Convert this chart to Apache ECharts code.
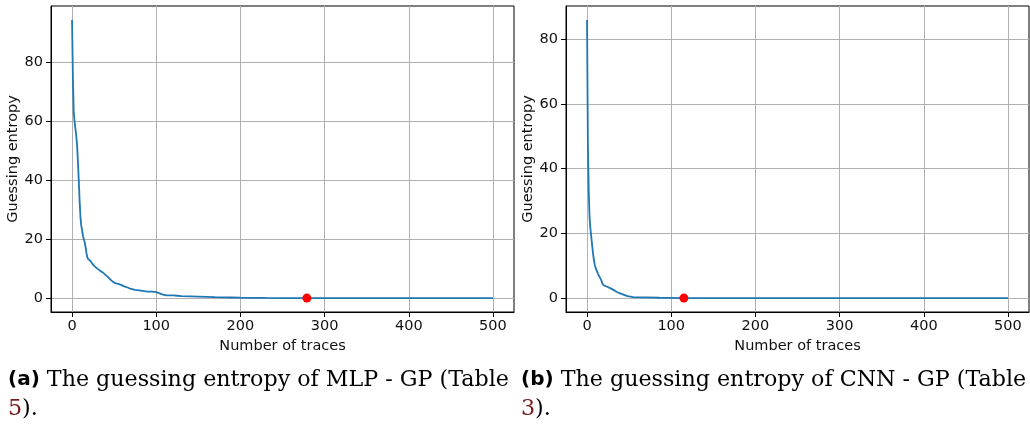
<!DOCTYPE html>
<html>
<head>
<meta charset="utf-8">
<script src="https://cdn.jsdelivr.net/npm/echarts@6/dist/echarts.min.js"></script>
<style>
html,body{margin:0;padding:0;background:#fff;}
#chart{width:1030px;height:426px;}
</style>
</head>
<body>
<div id="chart"></div>
<script>
// ---- data ----
const mlpTraces = [0,1,2,3,4,5,6,7,8,9,10,11,12,13,14,15,16,17,18,19,20,22,24,26,28,30,33,36,40,43,46,49,52,55,58,62,66,70,75,80,85,90,95,100,104,108,112,116,120,125,130,140,150,160,170,180,190,200,215,230,250,279,300,350,400,450,500];
const mlpGE     = [94.4,75,63,60,57.5,55,52,46,40,33,27.5,24.5,23,21,20,19,17.5,15.5,14,13.3,13.2,12.6,11.7,11,10.5,10,9.4,8.8,7.8,7.0,6.2,5.4,5.0,4.8,4.5,4.0,3.6,3.1,2.8,2.6,2.4,2.2,2.2,2.0,1.6,1.2,0.9,0.9,0.9,0.8,0.7,0.6,0.5,0.4,0.3,0.25,0.2,0.15,0.1,0.05,0.02,0,0,0,0,0,0];
const mlpMarker = [279, 0];

const cnnTraces = [0,1,2,3,4,5,6,7,8,9,10,11,12,13,14,15,16,17,18,19,20,22,24,26,28,30,33,36,40,44,48,50,55,62,70,86,100,115,200,300,400,500];
const cnnGE     = [86,48,33,25,21.5,19,16.5,14,12,10.5,9.5,8.8,8.2,7.5,7,6.5,6.2,5.5,4.6,4.2,3.9,3.7,3.5,3.2,3.0,2.8,2.3,1.8,1.4,1.0,0.6,0.4,0.3,0.25,0.2,0.1,0.05,0,0,0,0,0];
const cnnMarker = [115, 0];

const xTicks = [0,100,200,300,400,500];
const yTicks = [0,20,40,60,80];
const xName = 'Number of traces';
const yName = 'Guessing entropy';
const captionA = ['(a)', ' The guessing entropy of MLP - GP (Table', '5', ').'];
const captionB = ['(b)', ' The guessing entropy of CNN - GP (Table', '3', ').'];

// ---- chart ----
const pairs = (xs, ys) => xs.map((x, i) => [x, ys[i]]);
const pad = (arr) => { const mx = Math.max(...arr), mn = Math.min(...arr); const p = (mx - mn) * 0.05; return [mn - p, mx + p]; };
const xr = pad([0, 500]);
const yrA = pad(mlpGE);
const yrB = pad(cnnGE);

const tickFont = {fontFamily: 'DejaVu Sans', fontSize: 14.5, color: '#111'};

function xAxis(gi) {
  return {
    type: 'value', gridIndex: gi, min: xr[0], max: xr[1],
    name: xName, nameLocation: 'middle', nameGap: 23,
    nameTextStyle: Object.assign({}, tickFont),
    axisLine: {show: true, onZero: false, lineStyle: {color: '#000', width: 1}},
    axisTick: {show: true, inside: false, length: 5, customValues: xTicks, lineStyle: {color: '#000', width: 1}},
    axisLabel: Object.assign({show: true, margin: 7, customValues: xTicks, showMinLabel: true, showMaxLabel: true}, tickFont),
    splitLine: {show: true, lineStyle: {color: '#b0b0b0', width: 1}}
  };
}
function yAxis(gi, yr) {
  return {
    type: 'value', gridIndex: gi, min: yr[0], max: yr[1],
    name: yName, nameLocation: 'middle', nameGap: 26, nameRotate: 90,
    nameTextStyle: Object.assign({}, tickFont),
    axisLine: {show: true, onZero: false, lineStyle: {color: '#000', width: 1}},
    axisTick: {show: true, inside: false, length: 5, customValues: yTicks, lineStyle: {color: '#000', width: 1}},
    axisLabel: Object.assign({show: true, margin: 8, customValues: yTicks}, tickFont),
    splitLine: {show: true, lineStyle: {color: '#b0b0b0', width: 1}}
  };
}
function caption(parts, x) {
  const rich = {
    b: {fontFamily: 'DejaVu Sans', fontWeight: 'bold', fontSize: 20, fill: '#000', color: '#000'},
    n: {fontFamily: 'DejaVu Serif', fontSize: 22.2, fill: '#000', color: '#000'},
    r: {fontFamily: 'DejaVu Serif', fontSize: 22.2, fill: '#7a1a1a', color: '#7a1a1a'}
  };
  return [
    {type: 'text', x: x, y: 380, silent: true,
     style: {text: '{b|' + parts[0] + '}{n|' + parts[1] + '}', rich: rich, verticalAlign: 'middle', align: 'left', font: '22.2px DejaVu Serif', fill: '#000'}},
    {type: 'text', x: x, y: 409, silent: true,
     style: {text: '{r|' + parts[2] + '}{n|' + parts[3] + '}', rich: rich, verticalAlign: 'middle', align: 'left', font: '22.2px DejaVu Serif', fill: '#000'}}
  ];
}

const chart = echarts.init(document.getElementById('chart'), null, {renderer: 'canvas'});
chart.setOption({
  animation: false,
  backgroundColor: '#fff',
  grid: [
    {left: 51, top: 6, width: 463, height: 306, show: true, borderColor: '#000', borderWidth: 1, backgroundColor: 'transparent', containLabel: false, outerBoundsMode: 'none'},
    {left: 566, top: 6, width: 463, height: 306, show: true, borderColor: '#000', borderWidth: 1, backgroundColor: 'transparent', containLabel: false, outerBoundsMode: 'none'}
  ],
  xAxis: [xAxis(0), xAxis(1)],
  yAxis: [yAxis(0, yrA), yAxis(1, yrB)],
  series: [
    {type: 'line', xAxisIndex: 0, yAxisIndex: 0, data: pairs(mlpTraces, mlpGE), showSymbol: false, symbol: 'none',
     lineStyle: {color: '#1f77b4', width: 1.8}, itemStyle: {color: '#1f77b4'}, z: 3},
    {type: 'scatter', xAxisIndex: 0, yAxisIndex: 0, data: [mlpMarker], symbolSize: 9, itemStyle: {color: '#ff0000', opacity: 1}, z: 4},
    {type: 'line', xAxisIndex: 1, yAxisIndex: 1, data: pairs(cnnTraces, cnnGE), showSymbol: false, symbol: 'none',
     lineStyle: {color: '#1f77b4', width: 1.8}, itemStyle: {color: '#1f77b4'}, z: 3},
    {type: 'scatter', xAxisIndex: 1, yAxisIndex: 1, data: [cnnMarker], symbolSize: 9, itemStyle: {color: '#ff0000', opacity: 1}, z: 4}
  ],
  graphic: caption(captionA, 8).concat(caption(captionB, 521))
});
</script>
</body>
</html>
